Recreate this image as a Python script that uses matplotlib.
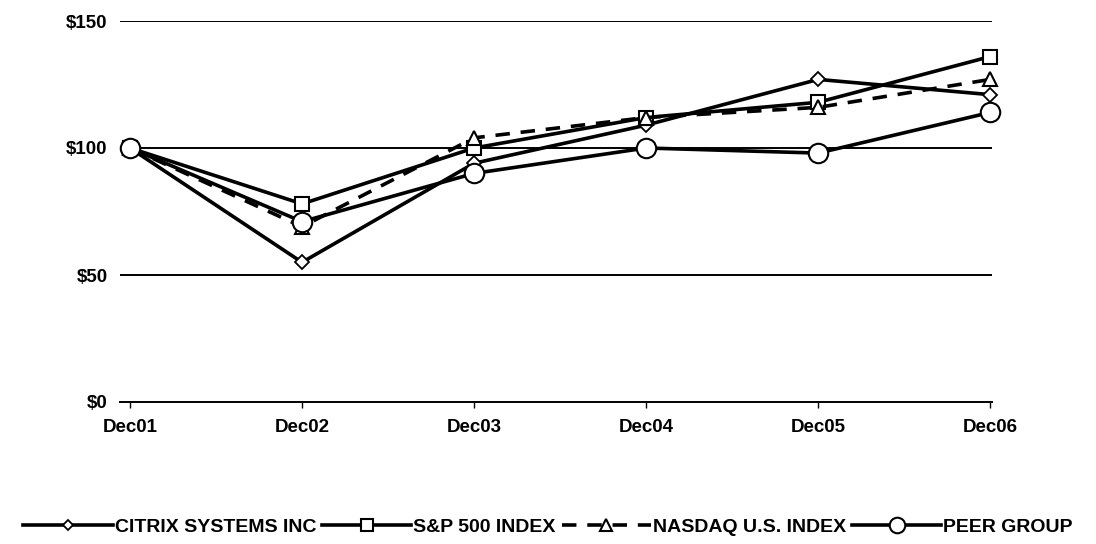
import matplotlib
matplotlib.use("Agg")
import matplotlib.pyplot as plt

categories = ["Dec01", "Dec02", "Dec03", "Dec04", "Dec05", "Dec06"]
citrix = [100, 55, 94, 109, 127, 121]
sp500 = [100, 78, 100, 112, 118, 136]
nasdaq = [100, 69, 104, 112, 116, 127]
peer = [100, 71, 90, 100, 98, 114]
yticks = [0, 50, 100, 150]
ytick_labels = ["$0", "$50", "$100", "$150"]

plt.rcParams['font.family'] = ['Liberation Sans', 'DejaVu Sans']
plt.rcParams['font.weight'] = 'bold'

fig = plt.figure(figsize=(10.96, 5.44), dpi=100)
ax = fig.add_axes([120/1096, 1-402/544, (992-120)/1096, (402-21)/544])
x = list(range(len(categories)))

for yv in [50, 100, 150]:
    ax.axhline(yv, color='black', lw=1.4, zorder=1)

lw = 2.6
ax.plot(x, citrix, color='black', lw=lw, marker='D', ms=7, mfc='white', mec='black', mew=1.3,
        label='CITRIX SYSTEMS INC', zorder=3, clip_on=False)
ax.plot(x, sp500, color='black', lw=lw, marker='s', ms=10, mfc='white', mec='black', mew=1.5,
        label='S&P 500 INDEX', zorder=3, clip_on=False)
ax.plot(x, nasdaq, color='black', lw=lw, ls=(0, (4, 3)), marker='^', ms=10, mfc='white', mec='black', mew=1.5,
        label='NASDAQ U.S. INDEX', zorder=3, clip_on=False)
ax.plot(x, peer, color='black', lw=lw, marker='o', ms=14, mfc='white', mec='black', mew=1.5,
        label='PEER GROUP', zorder=4, clip_on=False)

ax.set_xlim(-0.058, 5.01)
ax.set_ylim(0, 150)
ax.set_yticks(yticks)
ax.set_yticklabels(ytick_labels, fontsize=13.5, fontweight='bold')
ax.set_xticks(x)
ax.set_xticklabels(categories, fontsize=13.5, fontweight='bold')
for s in ['top', 'right', 'left']:
    ax.spines[s].set_visible(False)
ax.spines['bottom'].set_linewidth(1.4)
ax.tick_params(axis='y', length=0, pad=9)
ax.tick_params(axis='x', length=4, width=1, direction='out', pad=8)

leg = fig.legend(loc='center', bbox_to_anchor=(0.5, 1-527/544), ncol=4, frameon=False,
                 handlelength=4.6, columnspacing=0.3, handletextpad=0.1, markerscale=0.8,
                 prop={'weight': 'bold', 'size': 14})
fig.savefig("out.png", dpi=100, facecolor='white')
